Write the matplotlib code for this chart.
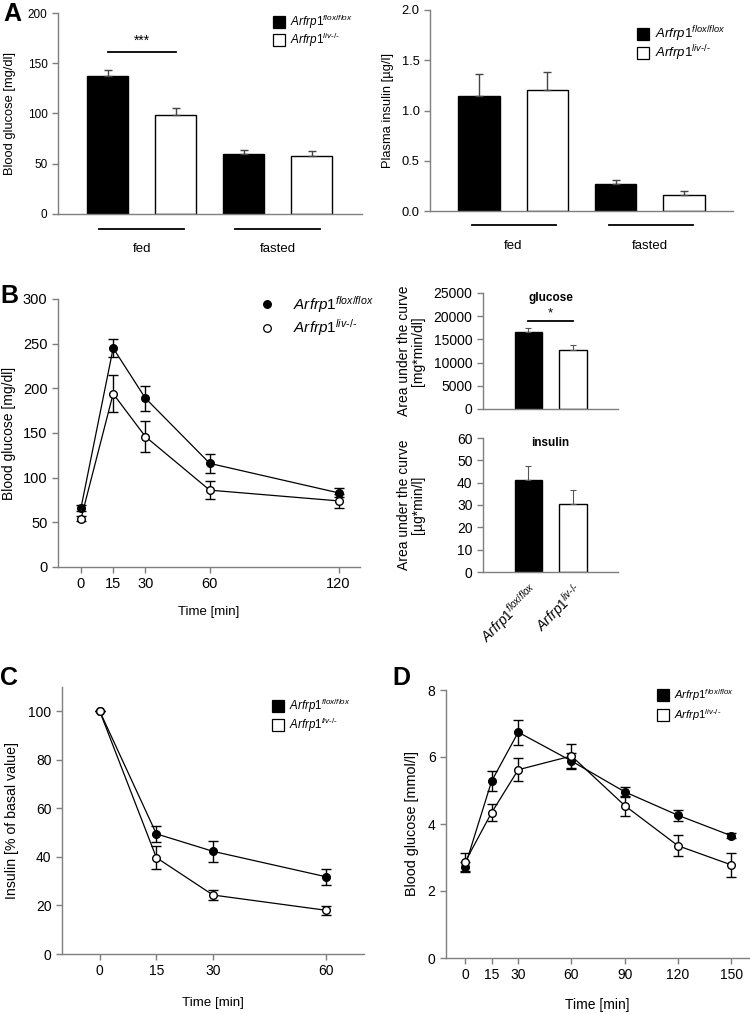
import matplotlib
matplotlib.use("Agg")
import matplotlib.pyplot as plt
import numpy as np

plt.rcParams['font.family'] = ['Liberation Sans', 'DejaVu Sans']
plt.rcParams['mathtext.fontset'] = 'custom'
plt.rcParams['mathtext.it'] = 'Liberation Sans:italic'
plt.rcParams['mathtext.rm'] = 'Liberation Sans'

# ---------------- data ----------------
groups = ['fed', 'fasted']
genotypes = [r'$\mathit{Arfrp1}^{\mathit{flox/flox}}$', '$\\mathit{Arfrp1}^{\\mathit{liv\u2010/\u2010}}$']

# Panel A
glucose_flox = [137, 60]
glucose_flox_err = [6, 4]
glucose_liv = [99, 58]
glucose_liv_err = [6, 5]
insulin_flox = [1.14, 0.27]
insulin_flox_err = [0.22, 0.04]
insulin_liv = [1.20, 0.16]
insulin_liv_err = [0.18, 0.035]

# Panel B (GTT)
gtt_time = [0, 15, 30, 60, 120]
gtt_flox = [66, 245, 189, 116, 83]
gtt_flox_err = [3, 10, 14, 11, 5]
gtt_liv = [54, 194, 146, 86, 74]
gtt_liv_err = [3, 21, 17, 10, 8]
auc_glucose = [16500, 12700]
auc_glucose_err = [900, 1100]
auc_insulin = [41.3, 30.5]
auc_insulin_err = [6.3, 6.2]

# Panel C (ITT, insulin % of basal)
itt_time = [0, 15, 30, 60]
itt_flox = [100, 49.5, 42.3, 31.8]
itt_flox_err = [0, 3.4, 4.2, 3.3]
itt_liv = [100, 39.7, 24.3, 18.0]
itt_liv_err = [0, 4.8, 2.0, 1.8]

# Panel D (blood glucose mmol/l)
d_time = [0, 15, 30, 60, 90, 120, 150]
d_flox = [2.73, 5.28, 6.74, 5.88, 4.96, 4.26, 3.65]
d_flox_err = [0.15, 0.30, 0.37, 0.25, 0.15, 0.16, 0.07]
d_liv = [2.86, 4.34, 5.62, 6.03, 4.55, 3.35, 2.78]
d_liv_err = [0.27, 0.25, 0.35, 0.37, 0.30, 0.31, 0.35]

SPINE = '#7f7f7f'
W, H = 750, 1014

fig = plt.figure(figsize=(7.5, 10.14), dpi=100)


def add_ax(x0, x1, y0, y1):
    return fig.add_axes([x0 / W, 1 - y1 / H, (x1 - x0) / W, (y1 - y0) / H])


def style(ax, fs):
    for s in ['top', 'right']:
        ax.spines[s].set_visible(False)
    for s in ['left', 'bottom']:
        ax.spines[s].set_color(SPINE)
        ax.spines[s].set_linewidth(1.0)
    ax.tick_params(axis='both', direction='out', color=SPINE, length=4,
                   width=1.0, labelsize=fs, labelcolor='black')


def ylab(ax, text, xpix, axx0, axw, fs):
    ax.set_ylabel(text, fontsize=fs)
    ax.yaxis.set_label_coords((xpix - axx0) / axw, 0.5)
    ax.yaxis.label.set_va('center')


def xlab(ax, text, ypix, axy1, axh, fs):
    ax.set_xlabel(text, fontsize=fs)
    ax.xaxis.set_label_coords(0.5, -(ypix - axy1) / axh)
    ax.xaxis.label.set_va('center')


def legend_marks(ax, x, ys, tx, marker, ms, fs):
    for y, fc, lab in zip(ys, ['black', 'white'], genotypes):
        ax.plot([x], [y], marker=marker, ms=ms, mfc=fc, mec='black', mew=0.9,
                transform=ax.transAxes, clip_on=False, ls='none')
        ax.text(tx, y, lab, transform=ax.transAxes, fontsize=fs,
                va='center', ha='left')


def bar_pair_plot(ax, flox, flox_err, liv, liv_err, width):
    pos = np.arange(len(groups)) * 2
    ax.bar(pos, flox, width, color='black', edgecolor='black', linewidth=1,
           yerr=[np.zeros(len(flox)), flox_err], capsize=3,
           error_kw=dict(ecolor='#444444', elinewidth=1, capthick=1))
    ax.bar(pos + 1, liv, width, color='white', edgecolor='black', linewidth=1,
           yerr=[np.zeros(len(liv)), liv_err], capsize=3,
           error_kw=dict(ecolor='#444444', elinewidth=1, capthick=1))
    return pos


# ---------------- Panel A left ----------------
ax1 = add_ax(58, 362, 13, 214)
style(ax1, 8.5)
pos = bar_pair_plot(ax1, glucose_flox, glucose_flox_err, glucose_liv, glucose_liv_err, 0.6)
ax1.set_xlim(-0.73, 3.74)
ax1.set_ylim(0, 200)
ax1.set_yticks([0, 50, 100, 150, 200])
ax1.set_xticks([])
ylab(ax1, 'Blood glucose [mg/dl]', 10, 58, 304, 9.3)
for p, g in zip(pos, groups):
    ax1.plot([p - 0.125, p + 1.125], [-15, -15], color='black', lw=1.3, clip_on=False)
    ax1.text(p + 0.5, -35, g, ha='center', va='center', fontsize=9.5)
ax1.plot([pos[0], pos[0] + 1], [161, 161], color='black', lw=1.3)
ax1.text(pos[0] + 0.5, 165, '***', ha='center', va='bottom', fontsize=10)
legend_marks(ax1, 0.727, [0.955, 0.866], 0.763, 's', 8.5, 8.5)

# ---------------- Panel A right ----------------
ax2 = add_ax(430, 733, 10, 211)
style(ax2, 9.3)
pos = bar_pair_plot(ax2, insulin_flox, insulin_flox_err, insulin_liv, insulin_liv_err, 0.61)
ax2.set_xlim(-0.72, 3.72)
ax2.set_ylim(0, 2.0)
ax2.set_yticks([0, 0.5, 1.0, 1.5, 2.0])
ax2.set_yticklabels(['%.1f' % v for v in [0, 0.5, 1.0, 1.5, 2.0]])
ax2.set_xticks([])
ylab(ax2, 'Plasma insulin [µg/l]', 388, 430, 303, 9.3)
for p, g in zip(pos, groups):
    ax2.plot([p - 0.10, p + 1.13], [-0.14, -0.14], color='black', lw=1.3, clip_on=False)
    ax2.text(p + 0.5, -0.35, g, ha='center', va='center', fontsize=9.5)
legend_marks(ax2, 0.703, [0.881, 0.786], 0.743, 's', 8.5, 9.5)

# ---------------- Panel B left ----------------
ax3 = add_ax(58, 360, 299, 567)
style(ax3, 10.5)
ax3.errorbar(gtt_time, gtt_flox, yerr=gtt_flox_err, color='black', lw=0.9,
             marker='o', ms=5.5, mfc='black', mec='black', capsize=3.5,
             elinewidth=1, capthick=1, zorder=3)
ax3.errorbar(gtt_time, gtt_liv, yerr=gtt_liv_err, color='black', lw=0.9,
             marker='o', ms=5.5, mfc='white', mec='black', capsize=3.5,
             elinewidth=1, capthick=1, zorder=3)
ax3.set_xlim(-10.7, 130)
ax3.set_ylim(0, 300)
ax3.set_yticks(range(0, 301, 50))
ax3.set_xticks(gtt_time)
ylab(ax3, 'Blood glucose [mg/dl]', 9, 58, 302, 10)
xlab(ax3, 'Time [min]', 612, 567, 268, 9.5)
legend_marks(ax3, 0.692, [0.981, 0.892], 0.778, 'o', 5.5, 11)

# ---------------- Panel B right top (AUC glucose) ----------------
ax4 = add_ax(483, 618, 293, 409)
style(ax4, 10)
ax4.bar([0], auc_glucose[:1], 0.62, color='black', edgecolor='black', lw=1,
        yerr=[[0], auc_glucose_err[:1]], capsize=2.5,
        error_kw=dict(ecolor='#555555', elinewidth=0.8, capthick=0.8))
ax4.bar([1], auc_glucose[1:], 0.62, color='white', edgecolor='black', lw=1,
        yerr=[[0], auc_glucose_err[1:]], capsize=2.5,
        error_kw=dict(ecolor='#555555', elinewidth=0.8, capthick=0.8))
ax4.set_xlim(-1.02, 2.01)
ax4.set_ylim(0, 25000)
ax4.set_yticks(range(0, 25001, 5000))
ax4.set_xticks([])
ax4.set_title('glucose', fontsize=8.5, fontweight='bold', pad=0, y=0.96, va='center')
ax4.plot([0, 1], [19000, 19000], color='black', lw=1.3)
ax4.text(0.5, 19300, '*', ha='center', va='bottom', fontsize=9.5)
ax4.set_ylabel('Area under the curve\n[mg*min/dl]', fontsize=10, linespacing=1.0)
ax4.yaxis.set_label_coords((411 - 483) / 135, 0.5)
ax4.yaxis.label.set_va('center')

# ---------------- Panel B right bottom (AUC insulin) ----------------
ax5 = add_ax(483, 618, 438, 572)
style(ax5, 10)
ax5.bar([0], auc_insulin[:1], 0.62, color='black', edgecolor='black', lw=1,
        yerr=[[0], auc_insulin_err[:1]], capsize=2.5,
        error_kw=dict(ecolor='#555555', elinewidth=0.8, capthick=0.8))
ax5.bar([1], auc_insulin[1:], 0.62, color='white', edgecolor='black', lw=1,
        yerr=[[0], auc_insulin_err[1:]], capsize=2.5,
        error_kw=dict(ecolor='#555555', elinewidth=0.8, capthick=0.8))
ax5.set_xlim(-1.02, 2.01)
ax5.set_ylim(0, 60)
ax5.set_yticks(range(0, 61, 10))
ax5.set_xticks([0, 1])
ax5.set_xticklabels(genotypes, rotation=45, ha='right', rotation_mode='anchor', fontsize=10)
ax5.tick_params(axis='x', length=0, pad=6)
ax5.set_title('insulin', fontsize=8.5, fontweight='bold', pad=0, y=0.96, va='center')
ax5.set_ylabel('Area under the curve\n[µg*min/l]', fontsize=10, linespacing=1.0)
ax5.yaxis.set_label_coords((411 - 483) / 135, 0.5)
ax5.yaxis.label.set_va('center')

# ---------------- Panel C ----------------
ax6 = add_ax(62, 364, 687, 954)
style(ax6, 10)
ax6.errorbar(itt_time, itt_flox, yerr=itt_flox_err, color='black', lw=0.9,
             marker='o', ms=5.5, mfc='black', mec='black', capsize=3.5,
             elinewidth=1, capthick=1, zorder=3)
ax6.errorbar(itt_time, itt_liv, yerr=itt_liv_err, color='black', lw=0.9,
             marker='o', ms=5.5, mfc='white', mec='black', capsize=3.5,
             elinewidth=1, capthick=1, zorder=3)
ax6.set_xlim(-10, 70)
ax6.set_ylim(0, 110)
ax6.set_yticks(range(0, 101, 20))
ax6.set_xticks(itt_time)
ylab(ax6, 'Insulin [% of basal value]', 12, 62, 302, 10.2)
xlab(ax6, 'Time [min]', 1003, 954, 267, 9.6)
legend_marks(ax6, 0.715, [0.928, 0.858], 0.752, 's', 8, 8.3)

# ---------------- Panel D ----------------
ax7 = add_ax(446, 749, 690, 958)
style(ax7, 10)
ax7.errorbar(d_time, d_flox, yerr=d_flox_err, color='black', lw=0.9,
             marker='o', ms=5.5, mfc='black', mec='black', capsize=3.5,
             elinewidth=1, capthick=1, zorder=3)
ax7.errorbar(d_time, d_liv, yerr=d_liv_err, color='black', lw=0.9,
             marker='o', ms=5.5, mfc='white', mec='black', capsize=3.5,
             elinewidth=1, capthick=1, zorder=3)
ax7.set_xlim(-10.7, 160)
ax7.set_ylim(0, 8)
ax7.set_yticks(range(0, 9, 2))
ax7.set_xticks(d_time)
ylab(ax7, 'Blood glucose [mmol/l]', 412, 446, 303, 10.4)
xlab(ax7, 'Time [min]', 1005, 958, 268, 10)
legend_marks(ax7, 0.716, [0.980, 0.906], 0.752, 's', 8, 8)

# ---------------- panel letters ----------------
for letter, x, y in [('A', 3, 21), ('B', 0, 303), ('C', 0, 685), ('D', 392, 685)]:
    fig.text(x / W, 1 - y / H, letter, fontsize=18, fontweight='bold',
             ha='left', va='baseline')

fig.savefig('out.png', dpi=100)
